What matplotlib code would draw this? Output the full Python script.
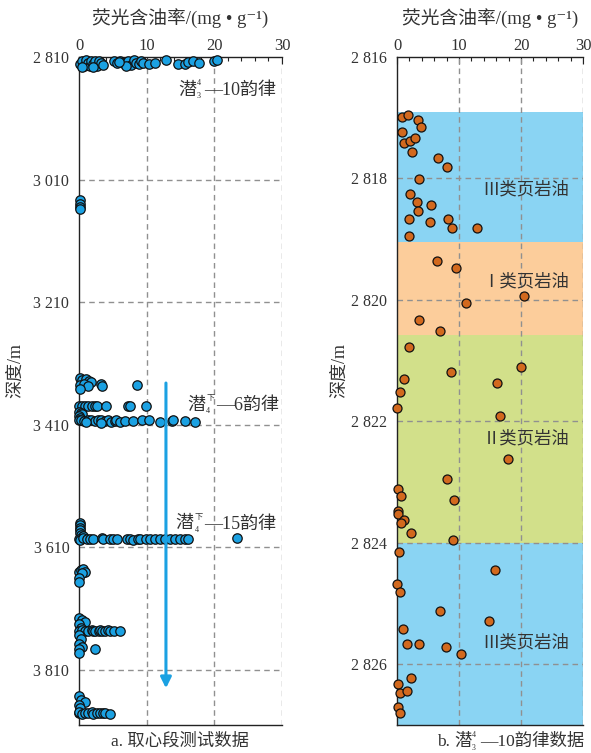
import numpy as np
import matplotlib
matplotlib.use("Agg")
import matplotlib.pyplot as plt

FONT = ['Liberation Serif', 'Noto Sans CJK SC', 'DejaVu Sans']
plt.rcParams['font.family'] = FONT

# ---- a. core interval: fluorescence oil content vs depth ----
core_val = [0.2, 0.5, 0.8, 1.0, 1.3, 1.6, 1.8, 2.1, 2.4, 2.7, 3.0, 3.3, 3.6, 0.4, 2.0,
            5.2, 5.6, 6.1, 6.5, 6.9, 7.3, 7.7, 8.1, 8.4, 8.8, 9.1, 9.5, 7.0, 5.9,
            10.3, 11.3, 12.8, 14.6, 15.6, 16.1, 16.9, 17.7, 20.0, 20.4]
core_dep = [2822, 2817, 2824, 2815, 2820, 2825, 2816, 2821, 2817, 2824, 2816, 2820, 2823, 2826, 2826,
            2817, 2820, 2816, 2819, 2822, 2817, 2823, 2815, 2819, 2821, 2817, 2820, 2824, 2818,
            2822, 2819, 2815, 2821, 2822, 2818, 2817, 2820, 2817, 2815]

core_val += [0.15, 0.15, 0.15, 0.15]
core_dep += [3044, 3050, 3054, 3058]

core_val += [0.1, 0.5, 1.0, 1.5, 1.8, 0.2, 0.8, 1.3, 3.2, 3.4, 0.1, 8.5]
core_dep += [3334, 3337, 3336, 3338, 3340, 3345, 3343, 3347, 3343, 3347, 3351, 3345]

core_val += [0.05, 0.4, 0.9, 1.4, 1.9, 2.4, 2.6, 4.0, 7.3, 7.6, 9.9]
core_dep += [3379] * 11
core_val += [0.0, 0.3, 0.5, 0.0, 0.2]
core_dep += [3389, 3391, 3393, 3396, 3399]
core_val += [0.0, 0.3, 0.8, 1.3, 1.8, 2.3, 2.8, 3.3, 3.8, 4.3, 4.8, 5.3, 5.5, 6.0, 6.8,
             8.0, 9.3, 10.3, 12.0, 13.7, 13.9, 15.7, 17.1, 3.3, 1.0]
core_dep += [3403, 3402, 3404, 3403, 3402, 3404, 3403, 3402, 3404, 3403, 3405, 3404, 3403, 3405, 3404,
             3404, 3403, 3403, 3405, 3404, 3403, 3404, 3405, 3407, 3406]

core_val += [0.1, 0.1, 0.1, 0.1, 0.1, 0.3, 0.6]
core_dep += [3570, 3574, 3578, 3582, 3587, 3590, 3592]
core_val += [0.0, 0.15, 0.64, 1.13, 1.62, 2.12, 3.35, 3.6, 4.58, 5.07, 5.57, 7.04, 7.53,
             8.02, 8.76, 9.0, 9.9, 10.5, 11.2, 12.0, 12.7, 13.4, 14.2, 14.9, 15.7, 16.1, 23.4]
core_dep += [3596, 3598, 3595, 3597, 3596, 3596, 3595, 3597, 3596, 3596, 3597, 3596, 3597,
             3598, 3596, 3597, 3596, 3596, 3596, 3596, 3596, 3596, 3596, 3596, 3596, 3596, 3595]

core_val += [0.0, 0.3, 0.6, 0.9, 0.5, 0.0, 0.0]
core_dep += [3650, 3647, 3646, 3650, 3652, 3660, 3667]

core_val += [0.0, 0.5, 0.9, 0.0, 0.3]
core_dep += [3725, 3728, 3732, 3736, 3741]
core_val += [0.0, 0.4, 0.9, 1.4, 1.9, 2.1, 2.4, 2.9, 3.1, 3.35, 3.8, 4.3, 4.6, 5.1, 6.1]
core_dep += [3746, 3745, 3747, 3746, 3745, 3747, 3746, 3746, 3745, 3747, 3746, 3745, 3746, 3747, 3746]
core_val += [0.0, 0.3, 0.0, 0.5, 0.0, 0.0, 2.36]
core_dep += [3753, 3760, 3768, 3773, 3776, 3782, 3776]

core_val += [0.0, 0.3, 0.9, 0.0, 0.2]
core_dep += [3853, 3859, 3862, 3867, 3872]
core_val += [0.0, 0.0, 0.4, 0.9, 1.4, 1.9, 2.1, 2.6, 3.1, 3.6, 3.8, 4.6]
core_dep += [3881, 3879, 3882, 3880, 3881, 3879, 3882, 3881, 3880, 3881, 3880, 3882]

core_ticks = [2810, 3010, 3210, 3410, 3610, 3810]
core_labels = ['2 810', '3 010', '3 210', '3 410', '3 610', '3 810']

# ---- b. Qian3-4 10th rhythm ----
rh_val = [0.76, 1.72, 3.39, 3.82, 0.81, 1.08, 2.10, 2.96, 2.47, 6.56, 8.06, 3.6, 2.1, 3.17,
          5.43, 3.39, 1.88, 5.27, 8.17, 8.87, 12.96, 1.88,
          6.5, 9.57, 20.43, 11.18, 3.6, 6.99, 1.88,
          20.05, 8.66, 16.08, 1.18, 0.43, 0.0, 16.61, 17.85, 8.06, 0.21, 0.6, 9.14, 0.21, 0.16,
          1.18, 0.6, 2.31, 9.08,
          0.37, 15.75, 0.0, 0.43, 6.94, 14.84, 0.97, 1.67, 3.55, 7.85, 10.38, 2.31, 0.16, 0.43,
          1.67, 0.16, 0.43]
rh_dep = [2816.98, 2816.95, 2817.03, 2817.15, 2817.24, 2817.41, 2817.38, 2817.33, 2817.57,
          2817.66, 2817.81, 2818.01, 2818.25, 2818.39, 2818.44, 2818.53, 2818.67, 2818.72,
          2818.66, 2818.81, 2818.81, 2818.94,
          2819.36, 2819.47, 2819.93, 2820.05, 2820.33, 2820.51, 2820.77,
          2821.10, 2821.19, 2821.37, 2821.30, 2821.52, 2821.78, 2821.91, 2822.62, 2822.95,
          2823.11, 2823.23, 2823.30, 2823.48, 2823.53, 2823.63, 2823.67, 2823.84, 2823.96,
          2824.15, 2824.44, 2824.67, 2824.81, 2825.13, 2825.29, 2825.42, 2825.66, 2825.66,
          2825.72, 2825.83, 2826.22, 2826.33, 2826.47, 2826.44, 2826.70, 2826.81]

band_top = [2816.9, 2819.05, 2820.58, 2824.0]
band_bot = [2819.05, 2820.58, 2824.0, 2827.0]
band_color = ['#8AD4F3', '#FCCD9B', '#D2E08A', '#8AD4F3']
band_name = ['Ⅲ类页岩油', 'Ⅰ类页岩油', 'Ⅱ类页岩油', 'Ⅲ类页岩油']
band_text_dep = [2818.2, 2819.7, 2822.3, 2825.65]

rh_ticks = [2816, 2818, 2820, 2822, 2824, 2826]
rh_labels = ['2 816', '2 818', '2 820', '2 822', '2 824', '2 826']

fig = plt.figure(figsize=(5.91, 7.53), dpi=100)
ax1 = fig.add_axes([79 / 591, 1 - 725 / 753, 203 / 591, 668 / 753])
ax2 = fig.add_axes([397 / 591, 1 - 725 / 753, 186 / 591, 668 / 753])

TXT = '#333333'


def style_axis(ax, ticks, labels, ylim):
    ax.set_xlim(0, 30)
    ax.set_ylim(*ylim)
    ax.xaxis.tick_top()
    ax.set_xticks([0, 10, 20, 30])
    ax.set_xticks(np.arange(0, 31, 2), minor=True)
    ax.tick_params(axis='x', which='major', direction='in', length=5, width=0.8,
                   labelsize=12, pad=2, color='#222222', labelcolor=TXT)
    ax.tick_params(axis='x', which='minor', direction='in', length=3, width=0.8, color='#222222')
    ax.set_yticks(ticks, labels)
    ax.tick_params(axis='y', length=0, labelsize=11.5, pad=7, labelcolor=TXT)
    ax.spines['right'].set_visible(False)
    for s in ['top', 'left', 'bottom']:
        ax.spines[s].set_linewidth(1.0)
        ax.spines[s].set_color('#222222')
    for t in ticks[1:]:
        ax.axhline(t, color='#909090', lw=1, ls=(0, (4, 3)), zorder=2)
    for v in [10, 20, 30]:
        ax.axvline(v, color='#909090', lw=1, ls=(0, (4, 3)), zorder=2)


style_axis(ax1, core_ticks, core_labels, (3900, 2810))
style_axis(ax2, rh_ticks, rh_labels, (2827, 2816))

ax1.scatter(core_val, core_dep, s=46, c='#1BA1E2', edgecolors='#111111', linewidths=0.9,
            zorder=4, clip_on=False)
ax1.annotate('', xy=(12.85, 3840), xytext=(12.85, 3342),
             arrowprops=dict(arrowstyle='-|>', color='#1BA1E2', lw=2.2, mutation_scale=16,
                             shrinkA=0, shrinkB=0), zorder=5)

for top, bot, col in zip(band_top, band_bot, band_color):
    ax2.axhspan(top, bot, color=col, lw=0, zorder=1)
for name, d in zip(band_name, band_text_dep):
    ax2.text(20.8, d, name, fontsize=12.5, ha='center', va='center', color=TXT, zorder=3)
ax2.scatter(rh_val, rh_dep, s=42, c='#D2691E', edgecolors='#111111', linewidths=0.9,
            zorder=4, clip_on=False)


def rhythm_label(ax, x, y, sup, sub, rest, size=13, sup_w=4.5, coords='data'):
    kw = dict(xycoords=coords, textcoords='offset points', va='center', ha='left',
              color=TXT, annotation_clip=False)
    ax.annotate('潜', (x, y), xytext=(0, 0), fontsize=size, **kw)
    ax.annotate(sup, (x, y), xytext=(size + 0.5, size * 0.4), fontsize=size * 0.45, **kw)
    ax.annotate(sub, (x, y), xytext=(size + 0.5, -size * 0.35), fontsize=size * 0.45, **kw)
    ax.annotate(rest, (x, y), xytext=(size + 1.5 + sup_w, 0), fontsize=size, **kw)


rhythm_label(ax1, 14.6, 2864, '4', '3', '—10韵律')
rhythm_label(ax1, 16.0, 3378, '下', '4', '—6韵律', sup_w=6)
rhythm_label(ax1, 14.3, 3572, '下', '4', '—15韵律', sup_w=6)

for cx in [180.5, 490]:
    fig.text(cx / 591, 1 - 18 / 753, '荧光含油率/(mg • g⁻¹)', fontsize=13.5,
             ha='center', va='center', color=TXT)
fig.text(16 / 591, 1 - 370 / 753, '深度/m', fontsize=13, rotation=90,
         ha='center', va='center', color=TXT)
fig.text(340 / 591, 1 - 370 / 753, '深度/m', fontsize=13, rotation=90,
         ha='center', va='center', color=TXT)

fig.text(180 / 591, 1 - 742 / 753, 'a. 取心段测试数据', fontsize=12.5,
         ha='center', va='center', color=TXT)
fig.text(437 / 591, 1 - 742 / 753, 'b.', fontsize=12.5, ha='left', va='center', color=TXT)
rhythm_label(ax2, 454 / 591, 1 - 742 / 753, '4', '3', '—10韵律数据', size=12.5,
             coords='figure fraction')

fig.savefig('out.png', dpi=100)
